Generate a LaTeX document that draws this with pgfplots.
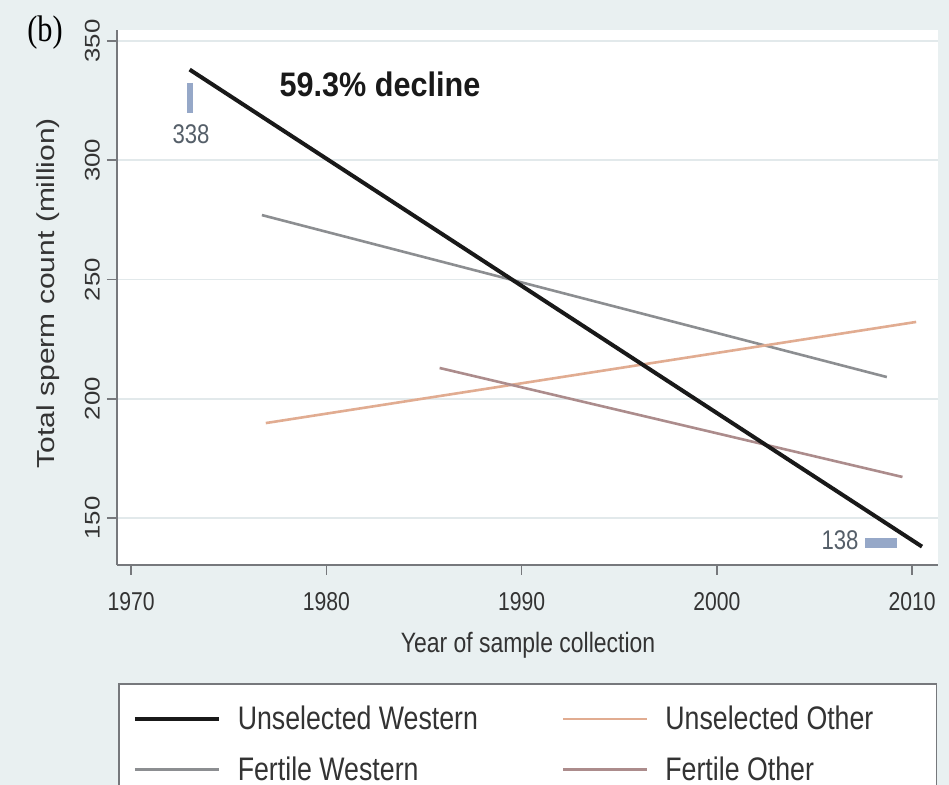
\documentclass[border=0pt]{standalone}
\usepackage{pgfplots}
\pgfplotsset{compat=1.18}
\usepackage{fontspec}
\setmainfont{Liberation Sans}
\newfontfamily\seriffont{Liberation Serif}
\usepackage{graphicx}
\definecolor{panel}{RGB}{233,240,241}
\definecolor{gridc}{RGB}{226,233,235}
\definecolor{axisc}{RGB}{118,120,124}
\definecolor{uw}{RGB}{25,25,25}
\definecolor{fw}{RGB}{140,142,145}
\definecolor{uo}{RGB}{225,172,145}
\definecolor{fo}{RGB}{172,140,140}
\definecolor{markc}{RGB}{150,168,200}
\definecolor{lblc}{RGB}{85,95,105}
\newcommand{\sq}[1]{\scalebox{0.82}[1]{#1}}
\newcommand{\vsq}[1]{\scalebox{1}[0.82]{#1}}
\newcommand{\pxy}[2]{({#1*0.5pt},{-#2*0.5pt})}
\begin{document}
\begin{tikzpicture}
\useasboundingbox (0,0) rectangle (474.5pt,-392.5pt);
\fill[panel] (0,0) rectangle (474.5pt,-392.5pt);
\begin{axis}[
  at={(58.5pt,-282.5pt)}, anchor=south west,
  scale only axis, width=410.5pt, height=267.5pt,
  xmin=1969.28, xmax=2011.32, ymin=130.3, ymax=354.6,
  axis x line*=bottom, axis y line*=left,
  axis line style={axisc, line width=1pt},
  axis background/.style={fill=white},
  xtick={1970,1980,1990,2000,2010},
  xticklabels={\sq{1970},\sq{1980},\sq{1990},\sq{2000},\sq{2010}},
  ytick={150,200,250,300,350},
  yticklabels={\vsq{150},\vsq{200},\vsq{250},\vsq{300},\vsq{350}},
  tick align=outside, major tick length=5pt,
  tick style={axisc, line width=0.8pt},
  ymajorgrids, major grid style={gridc, line width=0.8pt},
  xticklabel style={font=\fontsize{12.9}{14}\selectfont, text=black!80, yshift=-5pt},
  yticklabel style={rotate=90, anchor=south, font=\fontsize{12.9}{14}\selectfont, text=black!80},
  legend image code/.code={\draw[#1] (0pt,0pt) -- (42pt,0pt);},
  legend cell align=left,
  legend style={at={(0.0012,-0.2206)}, anchor=north west, draw=axisc, line width=0.8pt,
    fill=white, inner xsep=7pt, inner ysep=11pt, legend columns=2,
    font=\fontsize{16.3}{18}\selectfont, text=black!80,
    nodes={inner sep=0pt}, row sep=12pt,
    /tikz/every odd column/.append style={column sep=8.5pt},
    /tikz/every even column/.append style={column sep=12pt}},
]
\addplot[fw, line width=1.3pt, forget plot] coordinates {(1976.7,277.0) (2008.7,209.1)};
\addplot[uo, line width=1.3pt, forget plot] coordinates {(1976.9,189.8) (2010.2,232.2)};
\addplot[fo, line width=1.3pt, forget plot] coordinates {(1985.8,212.9) (2009.5,167.2)};
\addplot[uw, line width=2pt, forget plot] coordinates {(1973.0,338) (2010.5,138)};
\addplot[markc, line width=3pt, forget plot] coordinates {(1973.0,332.4) (1973.0,319.8)};
\addplot[markc, line width=5pt, forget plot] coordinates {(2007.6,139.5) (2009.2,139.5)};
\addlegendimage{uw, line width=2pt}
\addlegendentry{\makebox[150pt][l]{\rule[-4pt]{0pt}{14pt}\sq{Unselected Western}}}
\addlegendimage{uo, line width=1.3pt}
\addlegendentry{\makebox[128.5pt][l]{\rule[-4pt]{0pt}{14pt}\sq{Unselected Other}}}
\addlegendimage{fw, line width=1.3pt}
\addlegendentry{\makebox[150pt][l]{\rule[-4pt]{0pt}{14pt}\sq{Fertile Western}}}
\addlegendimage{fo, line width=1.3pt}
\addlegendentry{\makebox[128.5pt][l]{\rule[-4pt]{0pt}{14pt}\sq{Fertile Other}}}
\end{axis}
\node[font=\seriffont\fontsize{18.5}{20}\selectfont] at \pxy{45}{33} {\sq{(b)}};
\node[rotate=90, font=\fontsize{15}{17}\selectfont, text=black!80] at \pxy{48}{293} {\vsq{Total sperm count (million)}};
\node[font=\fontsize{14}{16}\selectfont, text=black!80] at \pxy{528}{645} {\sq{Year of sample collection}};
\node[font=\bfseries\fontsize{17}{19}\selectfont, text=black!90] at \pxy{380}{84} {\scalebox{0.9}[1]{59.3\% decline}};
\node[font=\fontsize{13.5}{15}\selectfont, text=lblc] at \pxy{191}{134} {\sq{338}};
\node[font=\fontsize{13.5}{15}\selectfont, text=lblc] at \pxy{840}{540} {\sq{138}};
\end{tikzpicture}
\end{document}
